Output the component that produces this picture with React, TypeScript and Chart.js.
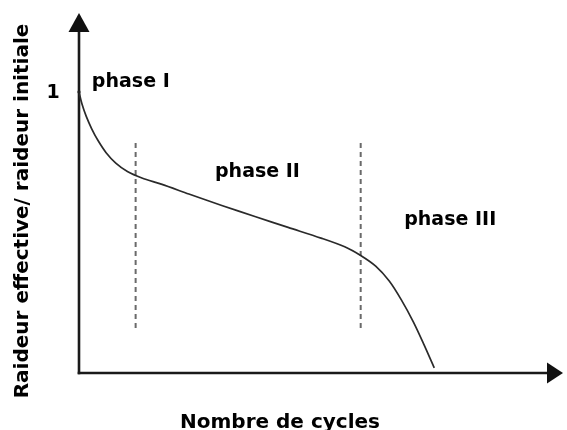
import React, { useEffect, useRef } from 'react';
import { Chart, registerables } from 'chart.js';

Chart.register(...registerables);

// Number of cycles (relative units) and stiffness ratio along the curve
const cycles = [0, 0.6, 1.5, 2.6, 3.9, 5.6, 7.6, 10, 13, 17, 22.7, 29.5, 36.5, 43.2, 50.0, 54.9, 58.2, 61.3, 64.1, 66.6, 69.1, 71.3, 73.4];
const stiffness = [1.0, 0.958, 0.913, 0.87, 0.828, 0.784, 0.747, 0.717, 0.694, 0.672, 0.637, 0.596, 0.556, 0.518, 0.48, 0.449, 0.418, 0.38, 0.327, 0.26, 0.181, 0.1, 0.018];

// Phase boundaries (dashed lines)
const phaseBoundaries = [11.7, 58.2];
const boundaryRange = [0.16, 0.829];

const phaseLabels = ['phase I', 'phase II', 'phase III'];
const yTickLabels = ['1'];
const xTitle = 'Nombre de cycles';
const yTitle = 'Raideur effective/ raideur initiale';

const X_MAX = 100;
const Y_MAX = 1.281;

const FONT = '"DejaVu Sans", "Liberation Sans", Arial, sans-serif';

const decorPlugin = {
  id: 'decor',
  beforeDatasetsDraw(chart: any) {
    const { ctx, scales } = chart;
    const xs = scales.x;
    const ys = scales.y;
    const ox = xs.getPixelForValue(0);
    const oy = ys.getPixelForValue(0);
    const yTop = ys.getPixelForValue(Y_MAX);
    const xRight = xs.getPixelForValue(X_MAX);
    ctx.save();
    ctx.strokeStyle = '#1a1a1a';
    ctx.fillStyle = '#111';
    ctx.lineWidth = 2.6;
    ctx.lineCap = 'butt';
    ctx.beginPath();
    ctx.moveTo(ox, oy + 1.3);
    ctx.lineTo(ox, yTop + 18);
    ctx.stroke();
    ctx.beginPath();
    ctx.moveTo(ox - 1.3, oy);
    ctx.lineTo(xRight - 15, oy);
    ctx.stroke();
    ctx.beginPath();
    ctx.moveTo(ox, yTop);
    ctx.lineTo(ox - 10.5, yTop + 19);
    ctx.lineTo(ox + 10.5, yTop + 19);
    ctx.closePath();
    ctx.fill();
    ctx.beginPath();
    ctx.moveTo(xRight, oy);
    ctx.lineTo(xRight - 16, oy - 10.5);
    ctx.lineTo(xRight - 16, oy + 10.5);
    ctx.closePath();
    ctx.fill();
    ctx.restore();
  },
  afterDatasetsDraw(chart: any) {
    const { ctx, scales } = chart;
    const xs = scales.x;
    const ys = scales.y;
    ctx.save();
    ctx.fillStyle = '#000';
    ctx.textBaseline = 'alphabetic';
    ctx.font = `bold 19px ${FONT}`;
    ctx.textAlign = 'left';
    const labelPos = [
      [2.66, 1.018],
      [28.1, 0.698],
      [67.2, 0.527],
    ];
    phaseLabels.forEach((t, i) => {
      ctx.fillText(t, xs.getPixelForValue(labelPos[i][0]), ys.getPixelForValue(labelPos[i][1]));
    });
    ctx.font = `bold 19px ${FONT}`;
    ctx.textAlign = 'center';
    ctx.fillText(yTickLabels[0], xs.getPixelForValue(0) - 26, ys.getPixelForValue(1) + 6);
    ctx.font = `bold 20px ${FONT}`;
    ctx.textAlign = 'center';
    ctx.fillText(xTitle, 280, 428);
    ctx.save();
    ctx.translate(28, 211);
    ctx.rotate(-Math.PI / 2);
    ctx.font = `bold 20px ${FONT}`;
    ctx.textAlign = 'center';
    ctx.fillText(yTitle, 0, 0);
    ctx.restore();
    ctx.restore();
  },
};

export default function App() {
  const ref = useRef<HTMLCanvasElement | null>(null);
  useEffect(() => {
    if (!ref.current) return;
    const curve = cycles.map((x, i) => ({ x, y: stiffness[i] }));
    const dashed = phaseBoundaries.map((b) => ({
      data: [
        { x: b, y: boundaryRange[0] },
        { x: b, y: boundaryRange[1] },
      ],
      borderColor: '#6a6a6a',
      borderWidth: 2,
      borderDash: [5, 4],
      pointRadius: 0,
      tension: 0,
      clip: false as any,
    }));
    const chart = new Chart(ref.current, {
      type: 'line',
      data: {
        datasets: [
          {
            data: curve,
            borderColor: '#2a2a2a',
            borderWidth: 1.7,
            tension: 0.3,
            pointRadius: (c: any) => (c.dataIndex === 0 ? 1.6 : 0),
            pointBackgroundColor: '#222',
            pointBorderWidth: 0,
            clip: false as any,
          } as any,
          ...dashed,
        ],
      },
      options: {
        animation: false,
        responsive: false,
        events: [],
        layout: { padding: { left: 79, right: 0, top: 13, bottom: 57 } },
        plugins: { legend: { display: false }, tooltip: { enabled: false } },
        scales: {
          x: { type: 'linear', min: 0, max: X_MAX, display: false },
          y: { type: 'linear', min: 0, max: Y_MAX, display: false },
        },
      },
      plugins: [decorPlugin],
    });
    return () => chart.destroy();
  }, []);
  return (
    <div style={{ position: 'fixed', left: 0, top: 0, width: 567, height: 430, background: '#fff' }}>
      <canvas ref={ref} width={567} height={430} style={{ width: 567, height: 430, display: 'block' }} />
    </div>
  );
}
